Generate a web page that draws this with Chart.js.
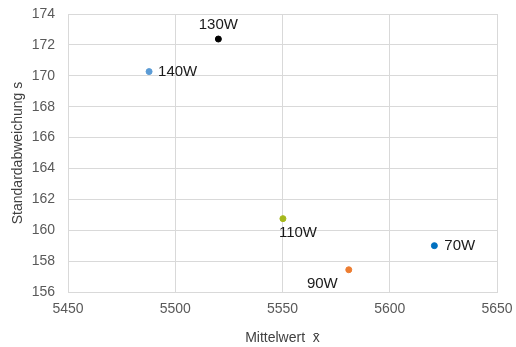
<!DOCTYPE html>
<html>
<head>
<meta charset="utf-8">
<script src="https://cdn.jsdelivr.net/npm/chart.js@4/dist/chart.umd.min.js"></script>
<style>
  html, body { margin: 0; padding: 0; background: #fff; }
  #wrap { width: 516px; height: 347px; }
</style>
</head>
<body>
<div id="wrap"><canvas id="myChart"></canvas></div>
<script>
// Data
const pointLabels = ["130W", "140W", "110W", "70W", "90W"];
const meanValues = [5520.1, 5487.8, 5550.2, 5620.8, 5580.9];
const stdValues = [172.38, 170.27, 160.75, 159.0, 157.44];
const pointColors = ["#000000", "#5B9BD5", "#A5B81C", "#0070C0", "#ED7D31"];
// label placement per point: [dx, dy, align]
const labelPlace = [[0, -14, "center"], [9, 0, "left"], [-4, 14, "left"], [10, 0, "left"], [-11, 14, "right"]];

const xTicks = [5450, 5500, 5550, 5600, 5650];
const yTicks = [156, 158, 160, 162, 164, 166, 168, 170, 172, 174];

const points = meanValues.map((x, i) => ({ x: x, y: stdValues[i] }));

// Draw the text next to each point
const labelPlugin = {
  id: "pointText",
  afterDatasetsDraw(chart) {
    const ctx = chart.ctx;
    const meta = chart.getDatasetMeta(0);
    ctx.save();
    ctx.font = "15px 'Liberation Sans', Arial, sans-serif";
    ctx.fillStyle = "#1a1a1a";
    ctx.textBaseline = "middle";
    meta.data.forEach((pt, i) => {
      const p = labelPlace[i];
      ctx.textAlign = p[2];
      ctx.fillText(pointLabels[i], pt.x + p[0], pt.y + p[1]);
    });
    ctx.restore();
  },
};

const ctx = document.getElementById("myChart").getContext("2d");

const config = {
  type: "scatter",
  data: {
    datasets: [
      {
        data: points,
        pointBackgroundColor: pointColors,
        pointBorderColor: pointColors,
        pointRadius: 3,
        pointHoverRadius: 3,
      },
    ],
  },
  options: {
    responsive: true,
    maintainAspectRatio: false,
    animation: false,
    layout: { padding: { top: 14, right: 19, left: 0, bottom: 0 } },
    scales: {
      x: {
        type: "linear",
        min: 5450,
        max: 5650,
        afterBuildTicks: (s) => { s.ticks = xTicks.map((v) => ({ value: v })); },
        afterFit: (s) => { s.height = 55; s.paddingLeft = 0; s.paddingRight = 0; },
        grid: { color: "#d9d9d9", drawTicks: false },
        border: { color: "#d9d9d9" },
        ticks: {
          color: "#595959",
          padding: 9,
          callback: (v) => String(v),
          font: { family: "'Liberation Sans', Arial", size: 14 },
        },
        title: {
          display: true,
          text: "Mittelwert  x\u0304",
          color: "#404040",
          padding: { top: 0, bottom: 0 },
          font: { family: "'Liberation Sans', Arial", size: 14 },
        },
      },
      y: {
        min: 156,
        max: 174,
        afterBuildTicks: (s) => { s.ticks = yTicks.map((v) => ({ value: v })); },
        afterFit: (s) => { s.width = 68; s.paddingTop = 0; s.paddingBottom = 0; },
        grid: { color: "#d9d9d9", drawTicks: false },
        border: { color: "#d9d9d9" },
        ticks: {
          color: "#595959",
          padding: 13,
          font: { family: "'Liberation Sans', Arial", size: 14 },
        },
        title: {
          display: true,
          text: "Standardabweichung s",
          color: "#404040",
          padding: { top: 10, bottom: 0 },
          font: { family: "'Liberation Sans', Arial", size: 14 },
        },
      },
    },
    plugins: {
      legend: { display: false },
      tooltip: { enabled: false },
    },
  },
  plugins: [labelPlugin],
};

const myChart = new Chart(ctx, config);
</script>
</body>
</html>
